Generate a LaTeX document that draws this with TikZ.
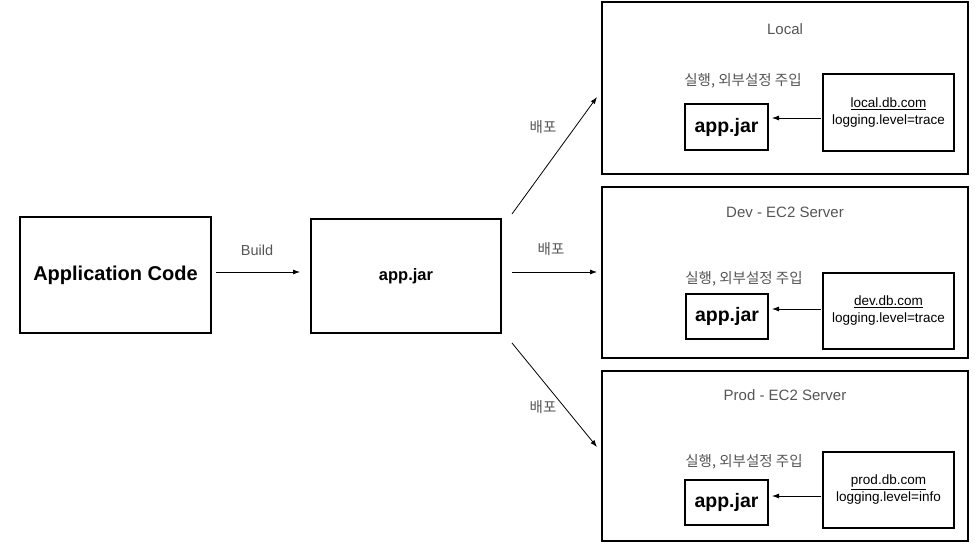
\documentclass[tikz,border=0pt]{standalone}
\usepackage{fontspec}
\setmainfont{Liberation Sans}
\newfontfamily\kr{Noto Sans CJK KR}
\usetikzlibrary{arrows.meta,calc}
\definecolor{lblgray}{HTML}{555555}
\begin{document}
\begin{tikzpicture}[x=1pt,y=-1pt,
  sk/.style={rectangle, draw=black, line width=1.4pt,
    preaction={draw=black!35, line width=2.8pt},
    inner sep=0pt, outer sep=0pt, fill=white},
  arr/.style={-{Latex[length=7pt,width=5pt]}, line width=0.8pt},
  lbl/.style={text=lblgray, inner sep=0pt, font=\fontsize{14.5}{17}\selectfont},
  ttl/.style={text=lblgray, inner sep=0pt, font=\fontsize{15}{18}\selectfont},
  krl/.style={text=lblgray, inner sep=0pt, font=\kr\fontsize{14.5}{17}\selectfont},
  cfgtxt/.style={align=center, font=\fontsize{13.5}{17}\selectfont},
  jartxt/.style={font=\bfseries\fontsize{19.5}{24}\selectfont}
]
\useasboundingbox (0,0) rectangle (978,551);

% outer environment boxes
\node[sk, minimum width=366pt, minimum height=172pt] (local) at (785,88) {};
\node[sk, minimum width=366pt, minimum height=171pt] (dev) at (785,272.5) {};
\node[sk, minimum width=366pt, minimum height=170pt] (prod) at (785,456) {};

% left boxes
\node[sk, minimum width=191pt, minimum height=116pt, font=\bfseries\fontsize{20}{24}\selectfont] (appcode) at (115.5,275) {Application Code};
\node[sk, minimum width=190pt, minimum height=114pt, font=\bfseries\fontsize{16.5}{20}\selectfont] (mainjar) at (406,276) {app.jar};

% titles
\node[ttl] (localt) at (785,29) {Local};
\node[ttl] (devt) at (785,212) {Dev - EC2 Server};
\node[ttl] (prodt) at (785,395) {Prod - EC2 Server};

% korean labels
\node[krl] (localk) at (743,81) {실행, 외부설정 주입};
\node[krl] (devk) at (744,279) {실행, 외부설정 주입};
\node[krl] (prodk) at (744,462) {실행, 외부설정 주입};

% inner boxes
\node[sk, minimum width=83pt, minimum height=46pt, jartxt] (localjar) at (726.5,127) {app.jar};
\node[sk, minimum width=131pt, minimum height=77pt, cfgtxt] (localcfg) at (888.5,112.5) {\underline{local.db.com}\\logging.level=trace};
\node[sk, minimum width=82pt, minimum height=45pt, jartxt] (devjar) at (727,316.5) {app.jar};
\node[sk, minimum width=131pt, minimum height=76pt, cfgtxt] (devcfg) at (888.5,311) {\underline{dev.db.com}\\logging.level=trace};
\node[sk, minimum width=83pt, minimum height=45pt, jartxt] (prodjar) at (726.5,502.5) {app.jar};
\node[sk, minimum width=131pt, minimum height=76pt, cfgtxt] (prodcfg) at (888.5,490) {\underline{prod.db.com}\\logging.level=info};

% main arrows
\draw[arr] ($(appcode.east)+(5,-3)$) -- ($(mainjar.west)+(-11,-4)$);
\node[lbl] (buildl) at (257,250) {Build};
\draw[arr] ($(mainjar.north east)+(11,-5)$) -- ($(local.west)+(-5,9)$);
\draw[arr] ($(mainjar.east)+(11,-4)$) -- ($(dev.west)+(-5,-0.5)$);
\draw[arr] ($(mainjar.south east)+(11,10)$) -- ($(prod.west)+(-5,-9)$);
\node[krl] (d1) at (543,127) {배포};
\node[krl] (d2) at (551,249) {배포};
\node[krl] (d3) at (543,407) {배포};

% inner arrows
\draw[arr] ($(localcfg.west)+(-2,5.5)$) -- ($(localjar.east)+(4,-9)$);
\draw[arr] ($(devcfg.west)+(-2,-2)$) -- ($(devjar.east)+(4,-7.5)$);
\draw[arr] ($(prodcfg.west)+(-2,6)$) -- ($(prodjar.east)+(4,-6.5)$);
\end{tikzpicture}
\end{document}
